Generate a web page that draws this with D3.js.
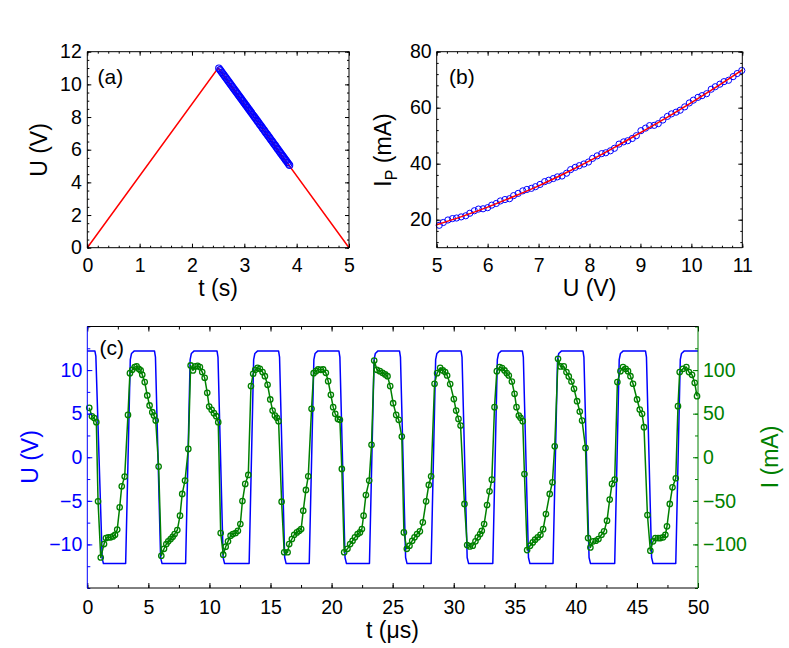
<!DOCTYPE html>
<html><head><meta charset="utf-8">
<script src="https://cdn.jsdelivr.net/npm/d3@7"></script>
<style>
body{margin:0;background:#fff}
svg{display:block}
text{font-family:"Liberation Sans",Arial,Helvetica,sans-serif}
</style>
</head><body>
<svg id="fig" width="789" height="648"></svg>
<script>
// ---------------- DATA ----------------
// panel (a): triangular voltage ramp and sampled points on the falling edge
const aRampT = [0, 2.5, 5];
const aRampU = [0, 11, 0];
const aSampleT = [3.864,3.846,3.826,3.805,3.787,3.767,3.746,3.728,3.707,3.689,
  3.669,3.648,3.630,3.610,3.592,3.571,3.551,3.532,3.512,3.492,
  3.473,3.453,3.435,3.414,3.394,3.376,3.355,3.337,3.317,3.296,
  3.278,3.257,3.239,3.219,3.198,3.180,3.160,3.139,3.121,3.101,
  3.082,3.062,3.042,3.023,3.003,2.985,2.964,2.944,2.926,2.905,
  2.887,2.867,2.846,2.828,2.807,2.789,2.769,2.748,2.730,2.710,
  2.692,2.671,2.651,2.632,2.612,2.594,2.573,2.553,2.535,2.514];
// panel (b): measured voltage / current
const bU = [5.05,5.13,5.22,5.31,5.39,5.48,5.57,5.65,5.74,5.82,
  5.91,6.00,6.08,6.17,6.25,6.34,6.43,6.51,6.60,6.69,
  6.77,6.86,6.94,7.03,7.12,7.20,7.29,7.37,7.46,7.55,
  7.63,7.72,7.80,7.89,7.98,8.06,8.15,8.24,8.32,8.41,
  8.49,8.58,8.67,8.75,8.84,8.92,9.01,9.10,9.18,9.27,
  9.35,9.44,9.53,9.61,9.70,9.78,9.87,9.96,10.04,10.13,
  10.21,10.30,10.39,10.47,10.56,10.64,10.73,10.82,10.90,10.99];
const bI = [18.0,19.0,19.9,20.4,20.6,21.0,21.4,22.3,23.2,23.8,
  23.9,24.3,25.2,25.8,26.7,27.2,27.5,28.6,29.4,30.3,
  30.8,31.2,31.8,32.6,33.6,34.1,34.7,35.3,35.6,36.6,
  37.9,38.7,39.3,39.9,40.6,41.9,42.8,43.6,43.9,44.6,
  45.5,47.0,47.8,48.2,49.0,50.0,51.8,52.7,53.6,53.7,
  54.3,55.6,56.9,57.8,58.4,59.1,60.3,61.7,62.7,63.7,
  64.3,65.0,66.6,67.5,68.4,69.3,69.8,71.1,72.2,73.3];
const bFitU = [5,5.5,6,6.5,7,7.5,8,8.5,9,9.5,10,10.5,11];
const bFitI = [18.2,21.2,24.5,28.2,32.1,36.4,41.0,45.9,51.1,56.3,61.8,67.5,73.5];
// panel (c): voltage U (V) vs time (us)
const cU = [[0,12.2],[0.62,12.2],[0.7,11.6],[1.22,-11.6],[1.32,-12.2],
  [3.14,-12.2],[3.52,11.2],[3.62,11.9],[3.85,12.2],[5.5,12.2],[5.58,11.5],[6.0,-11.5],[6.12,-12.2],
  [8.05,-12.2],[8.42,11.2],[8.52,11.9],[8.75,12.2],[10.62,12.2],[10.7,11.5],[11.12,-11.5],[11.24,-12.2],
  [13.25,-12.2],[13.62,11.2],[13.72,11.9],[13.95,12.2],[15.66,12.2],[15.74,11.5],[16.16,-11.5],[16.28,-12.2],
  [18.17,-12.2],[18.55,11.2],[18.65,11.9],[18.88,12.2],[20.6,12.2],[20.68,11.5],[21.1,-11.5],[21.22,-12.2],
  [23.1,-12.2],[23.48,11.2],[23.58,11.9],[23.8,12.2],[25.56,12.2],[25.64,11.5],[26.06,-11.5],[26.18,-12.2],
  [28.15,-12.2],[28.52,11.2],[28.62,11.9],[28.85,12.2],[30.6,12.2],[30.68,11.5],[31.1,-11.5],[31.22,-12.2],
  [33.2,-12.2],[33.57,11.2],[33.67,11.9],[33.9,12.2],[35.62,12.2],[35.7,11.5],[36.12,-11.5],[36.24,-12.2],
  [38.13,-12.2],[38.5,11.2],[38.6,11.9],[38.83,12.2],[40.58,12.2],[40.66,11.5],[41.08,-11.5],[41.2,-12.2],
  [43.18,-12.2],[43.55,11.2],[43.65,11.9],[43.88,12.2],[45.7,12.2],[45.78,11.5],[46.2,-11.5],[46.32,-12.2],
  [48.18,-12.2],[48.55,11.2],[48.65,11.9],[48.88,12.2],[50,12.2]];
// panel (c): current I (mA) vs time (us)
const cI = [[0.16,56.7],[0.38,47],[0.57,45],[0.74,40.2],[0.88,-50.6],[1.1,-115],[1.37,-99.6],[1.53,-92.7],
  [1.72,-91.9],[1.91,-91.9],[2.1,-90.8],[2.27,-88.9],[2.45,-83],[2.65,-57.5],[2.82,-33.3],[3.06,-22.2],
  [3.33,48.6],[3.49,96.5],[3.68,100.3],[3.88,103.4],[4.04,104.2],[4.21,101.5],[4.37,99.6],[4.5,94.6],
  [4.7,86.2],[4.91,70.9],[5.1,59.4],[5.32,51.7],[5.46,47.9],[5.6,42.1],[5.84,-10.7],[6.06,-113],
  [6.28,-105],[6.47,-99.6],[6.63,-96.5],[6.82,-93.8],[6.99,-91.2],[7.15,-88.1],[7.37,-83.5],[7.59,-67],
  [7.77,-42.1],[8.0,-26.8],[8.27,9.6],[8.46,105.3],[8.65,99.6],[8.84,104.2],[9.03,104.9],[9.22,103.4],
  [9.41,97.7],[9.61,91.2],[9.82,73.9],[9.98,58.2],[10.18,54.4],[10.37,50.6],[10.56,47.1],[10.72,40.2],
  [10.92,-86.9],[11.13,-111.8],[11.33,-102.6],[11.52,-96.5],[11.73,-90],[11.92,-88.1],[12.14,-86.9],[12.33,-84.3],
  [12.53,-76.6],[12.7,-50.2],[12.93,-30.6],[13.18,-20.3],[13.4,81.6],[13.58,95.8],[13.75,100.3],[13.94,102.6],
  [14.13,101.5],[14.35,97.7],[14.54,93],[14.76,83.1],[14.98,66.3],[15.17,53.6],[15.36,47.9],[15.52,45.2],
  [15.66,41.4],[15.91,-51],[16.12,-109],[16.4,-109],[16.53,-99.6],[16.75,-93.8],[16.94,-88.9],[17.16,-86.2],
  [17.35,-84.3],[17.51,-82.3],[17.68,-61.3],[17.9,-37.5],[18.09,-21.8],[18.36,55.5],[18.53,96.5],[18.72,98.8],
  [18.9,100.7],[19.12,100.3],[19.31,100.7],[19.53,96.9],[19.72,87.3],[19.94,71.6],[20.13,57.5],[20.3,49.8],
  [20.52,44],[20.68,42.9],[20.84,-13.4],[21.03,-109],[21.3,-105],[21.52,-99.6],[21.72,-95.8],[21.91,-91.9],
  [22.13,-88.1],[22.32,-86.2],[22.48,-82.3],[22.62,-67],[22.81,-43.3],[23.08,-26.8],[23.27,14.2],[23.49,111],
  [23.71,100.3],[23.95,98.8],[24.17,96.9],[24.39,95],[24.58,93],[24.8,81.6],[25.04,62],[25.29,48.6],
  [25.5,42.9],[25.75,23.7],[25.92,-86.2],[26.16,-105],[26.38,-101.5],[26.6,-95.8],[26.79,-91.9],[27.0,-88.1],
  [27.23,-85],[27.47,-74.7],[27.74,-50.6],[27.96,-31.8],[28.15,-21.8],[28.43,84.3],[28.64,96.5],[28.89,102.6],
  [29.11,99.6],[29.3,97.7],[29.46,93.8],[29.71,83.9],[30.01,66.7],[30.2,53.6],[30.39,44],[30.56,36.4],
  [30.88,-53.6],[31.1,-100.7],[31.32,-102.3],[31.56,-101.5],[31.78,-96.5],[31.97,-91.9],[32.16,-88.1],[32.3,-84.3],
  [32.49,-76.6],[32.73,-54.8],[32.93,-39.1],[33.12,-25.7],[33.34,57.5],[33.53,98.8],[33.75,103.4],[33.96,102.3],
  [34.16,99.6],[34.35,96.5],[34.51,93.8],[34.76,86.9],[34.98,72.8],[35.14,57.5],[35.33,47.9],[35.47,45.2],
  [35.65,41.4],[35.79,-19.2],[36.01,-106.5],[36.25,-101.5],[36.47,-97.7],[36.66,-94.6],[36.88,-91.9],[37.1,-88.9],
  [37.32,-82.5],[37.55,-65.1],[37.86,-42.1],[38.08,-28.7],[38.27,12.6],[38.54,113],[38.74,104.2],[39.01,104.2],
  [39.23,97.7],[39.42,92.7],[39.64,86.9],[39.85,78.5],[40.1,64.3],[40.32,52.5],[40.51,42.1],[40.79,10.7],
  [41.0,-92.7],[41.19,-103.4],[41.41,-96.5],[41.63,-95.8],[41.85,-93.8],[42.1,-88.9],[42.31,-85],[42.55,-72.8],
  [42.77,-48.6],[42.96,-30.6],[43.18,-25.7],[43.4,86.2],[43.65,98.8],[43.86,103.4],[44.08,101.5],[44.27,98.8],
  [44.47,93],[44.68,84.3],[45.01,66.3],[45.23,54.8],[45.42,49.8],[45.58,34.5],[45.86,-66.3],[46.1,-107.2],
  [46.32,-96.5],[46.51,-92.7],[46.73,-92.7],[46.92,-92.7],[47.14,-91.9],[47.33,-88.9],[47.46,-79.3],[47.69,-53.6],
  [47.91,-34.5],[48.18,-24.1],[48.36,58.6],[48.5,97.7],[48.77,101.5],[49.05,103.4],[49.26,97.7],[49.51,94.6],
  [49.73,85.4],[49.92,70.1]];
// tick values
const aXTicks = [0,1,2,3,4,5];
const aYTicks = [0,2,4,6,8,10,12];
const bXTicks = [5,6,7,8,9,10,11];
const bYTicks = [20,40,60,80];
const cXTicks = [0,5,10,15,20,25,30,35,40,45,50];
const cUTicks = [-10,-5,0,5,10];
const cITicks = [-100,-50,0,50,100];

// ---------------- DRAWING ----------------
const svg = d3.select('#fig');
const BLUE = '#0000ff', RED = '#ff0000', GREEN = '#008000';
const TICKFS = 19.5, LABFS = 23;

function minorVals(dom, step){ const o=[]; for(let v=dom[0]; v<=dom[1]+1e-9; v+=step) o.push(+v.toFixed(6)); return o; }

function styleAxis(sel, color){
  sel.select('.domain').remove();
  sel.style('color', color).attr('font-size', TICKFS)
     .attr('font-family', '"Liberation Sans",Arial,Helvetica,sans-serif');
  sel.selectAll('line').attr('stroke-width', 1);
}

function drawAxes(x, y, o){
  const [x0,x1] = x.range(), [y1,y0] = y.range();
  const fmt = d3.format('d');
  styleAxis(svg.append('g').attr('transform',`translate(0,${y1})`)
    .call(d3.axisBottom(x).tickValues(o.xMinor).tickSize(-o.minLen).tickSizeOuter(0).tickFormat('')), 'black');
  styleAxis(svg.append('g').attr('transform',`translate(0,${y1})`)
    .call(d3.axisBottom(x).tickValues(o.xTicks).tickSize(-o.majLen).tickSizeOuter(0).tickPadding(o.xPad).tickFormat(fmt)), 'black');
  styleAxis(svg.append('g').attr('transform',`translate(0,${y0})`)
    .call(d3.axisTop(x).tickValues(o.xMinor).tickSize(-o.minLen).tickSizeOuter(0).tickFormat('')), 'black');
  styleAxis(svg.append('g').attr('transform',`translate(0,${y0})`)
    .call(d3.axisTop(x).tickValues(o.xTicks).tickSize(-o.majLen).tickSizeOuter(0).tickFormat('')), 'black');
  styleAxis(svg.append('g').attr('transform',`translate(${x0},0)`)
    .call(d3.axisLeft(y).tickValues(o.yMinor).tickSize(-o.minLen).tickSizeOuter(0).tickFormat('')), o.leftColor);
  styleAxis(svg.append('g').attr('transform',`translate(${x0},0)`)
    .call(d3.axisLeft(y).tickValues(o.yTicks).tickSize(-o.majLen).tickSizeOuter(0).tickPadding(o.yPad).tickFormat(fmt)), o.leftColor);
  if (o.y2) {
    styleAxis(svg.append('g').attr('transform',`translate(${x1},0)`)
      .call(d3.axisRight(o.y2).tickValues(o.y2Minor).tickSize(-o.minLen).tickSizeOuter(0).tickFormat('')), o.rightColor);
    styleAxis(svg.append('g').attr('transform',`translate(${x1},0)`)
      .call(d3.axisRight(o.y2).tickValues(o.y2Ticks).tickSize(-o.majLen).tickSizeOuter(0).tickPadding(o.yPad).tickFormat(fmt)), o.rightColor);
  } else {
    styleAxis(svg.append('g').attr('transform',`translate(${x1},0)`)
      .call(d3.axisRight(y).tickValues(o.yMinor).tickSize(-o.minLen).tickSizeOuter(0).tickFormat('')), 'black');
    styleAxis(svg.append('g').attr('transform',`translate(${x1},0)`)
      .call(d3.axisRight(y).tickValues(o.yTicks).tickSize(-o.majLen).tickSizeOuter(0).tickFormat('')), 'black');
  }
  const f = svg.append('g').attr('stroke-width',1).attr('fill','none');
  f.append('line').attr('x1',x0).attr('x2',x1).attr('y1',y0).attr('y2',y0).attr('stroke','black');
  f.append('line').attr('x1',x0).attr('x2',x1).attr('y1',y1).attr('y2',y1).attr('stroke','black');
  f.append('line').attr('x1',x0).attr('x2',x0).attr('y1',y0).attr('y2',y1).attr('stroke',o.leftColor);
  f.append('line').attr('x1',x1).attr('x2',x1).attr('y1',y0).attr('y2',y1).attr('stroke',o.rightColor || 'black');
}

function label(x, y, txt, opts={}){
  const t = svg.append('text').attr('x',x).attr('y',y)
    .attr('font-size', opts.fs || LABFS).attr('fill', opts.color || 'black')
    .attr('text-anchor', opts.anchor || 'middle');
  if (opts.rot) t.attr('transform', `rotate(-90,${x},${y})`);
  t.text(txt);
  return t;
}

// ---- panel (a)
const ax = d3.scaleLinear().domain([0,5]).range([87.3,349]);
const ay = d3.scaleLinear().domain([0,12]).range([247.7,51.7]);
svg.append('path').datum(aRampT.map((t,i)=>[t,aRampU[i]]))
  .attr('d', d3.line().x(d=>ax(d[0])).y(d=>ay(d[1])))
  .attr('fill','none').attr('stroke',RED).attr('stroke-width',1.5);
svg.append('g').selectAll('circle').data(aSampleT.map((t,i)=>[t,bU[i]])).join('circle')
  .attr('cx',d=>ax(d[0])).attr('cy',d=>ay(d[1])).attr('r',3.2)
  .attr('fill','none').attr('stroke',BLUE).attr('stroke-width',1.1);
drawAxes(ax, ay, {xTicks:aXTicks, xMinor:minorVals([0,5],0.2), yTicks:aYTicks, yMinor:minorVals([0,12],0.5),
  majLen:4, minLen:2, xPad:10, yPad:5.5, leftColor:'black'});
label(218, 296, 't (s)');
label(47, 150, 'U (V)', {rot:true});
label(97.5, 83.5, '(a)', {fs:21, anchor:'start'});

// ---- panel (b)
const bx = d3.scaleLinear().domain([5,11]).range([436.7,742.3]);
const by = d3.scaleLinear().domain([10,80]).range([247.7,51.7]);
svg.append('g').selectAll('circle').data(bU.map((u,i)=>[u,bI[i]])).join('circle')
  .attr('cx',d=>bx(d[0])).attr('cy',d=>by(d[1])).attr('r',3.1)
  .attr('fill','none').attr('stroke',BLUE).attr('stroke-width',1);
svg.append('path').datum(bFitU.map((u,i)=>[u,bFitI[i]]))
  .attr('d', d3.line().curve(d3.curveMonotoneX).x(d=>bx(d[0])).y(d=>by(d[1])))
  .attr('fill','none').attr('stroke',RED).attr('stroke-width',1.5);
drawAxes(bx, by, {xTicks:bXTicks, xMinor:minorVals([5,11],0.2), yTicks:bYTicks, yMinor:minorVals([12,80],4),
  majLen:4, minLen:2, xPad:10, yPad:5, leftColor:'black'});
label(589.5, 296, 'U (V)');
{
  const t = svg.append('text').attr('transform','translate(391,150) rotate(-90)')
    .attr('font-size',LABFS).attr('text-anchor','middle');
  t.append('tspan').text('I');
  t.append('tspan').attr('font-size',16).attr('dy',6).text('P');
  t.append('tspan').attr('dy',-6).text(' (mA)');
}
label(449, 83.5, '(b)', {fs:21, anchor:'start'});

// ---- panel (c)
const cx = d3.scaleLinear().domain([0,50]).range([87.3,698]);
const cyU = d3.scaleLinear().domain([-15,15]).range([588,326.5]);
const cyI = d3.scaleLinear().domain([-150,150]).range([588,326.5]);
svg.append('path').datum(cU)
  .attr('d', d3.line().x(d=>cx(d[0])).y(d=>cyU(d[1])))
  .attr('fill','none').attr('stroke',BLUE).attr('stroke-width',1.5).attr('stroke-linejoin','round');
svg.append('path').datum(cI)
  .attr('d', d3.line().x(d=>cx(d[0])).y(d=>cyI(d[1])))
  .attr('fill','none').attr('stroke',GREEN).attr('stroke-width',1.5).attr('stroke-linejoin','round');
svg.append('g').selectAll('circle').data(cI).join('circle')
  .attr('cx',d=>cx(d[0])).attr('cy',d=>cyI(d[1])).attr('r',2.7)
  .attr('fill','none').attr('stroke',GREEN).attr('stroke-width',1.3);
drawAxes(cx, cyU, {xTicks:cXTicks, xMinor:minorVals([0,50],2.5), yTicks:cUTicks, yMinor:minorVals([-15,15],2.5),
  y2:cyI, y2Ticks:cITicks, y2Minor:minorVals([-150,150],25),
  majLen:5, minLen:3, xPad:12, yPad:5, leftColor:BLUE, rightColor:GREEN});
label(392.5, 638, 't (\u03bcs)');
label(38, 457, 'U (V)', {rot:true, color:BLUE});
label(778, 457, 'I (mA)', {rot:true, color:GREEN});
label(99.5, 355, '(c)', {fs:21, anchor:'start'});
</script>
</body></html>
